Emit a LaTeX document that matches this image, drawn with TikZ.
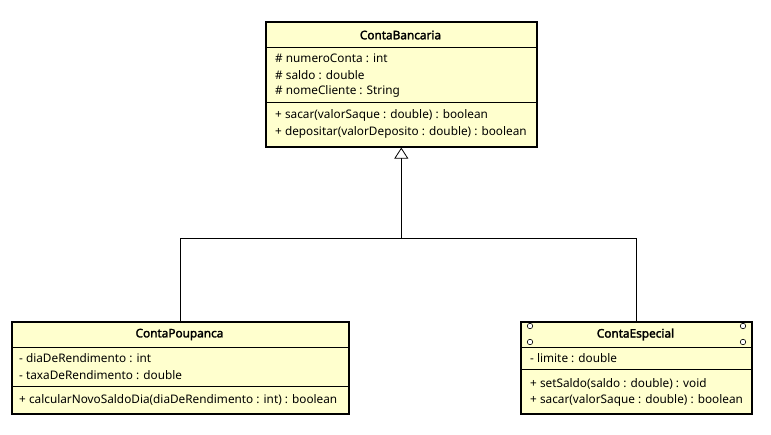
\documentclass[tikz,border=0pt]{standalone}
\usepackage{fontspec}
\setmainfont{Noto Sans}[AutoFakeBold=2.2]
\usetikzlibrary{arrows.meta}
\definecolor{classfill}{RGB}{255,255,206}
\tikzset{
  classbox/.style={draw=black, line width=1.6pt, fill=classfill, rectangle, anchor=north west, inner sep=0pt},
  ctitle/.style={font=\fontsize{11.8}{13}\selectfont\bfseries, inner sep=0pt},
  member/.style={font=\fontsize{11.8}{13}\selectfont, anchor=west, inner sep=0pt},
  sep/.style={line width=0.8pt},
  link/.style={line width=0.8pt},
  gen/.style={line width=0.8pt, -{Triangle[open, length=11pt, width=14pt, fill=white]}},
  port/.style={circle, draw=black, line width=0.6pt, fill=white, minimum size=5.5pt, inner sep=0pt}
}
\begin{document}
\begin{tikzpicture}[x=1pt,y=-1pt]
\useasboundingbox[fill=white] (0,0) rectangle (771,435);

% ContaBancaria
\node[classbox, minimum width=271pt, minimum height=125pt] (cb) at (265,21) {};
\node[ctitle] (cbt) at (400.5,35) {ContaBancaria};
\draw[sep] (265,47) -- (536,47);
\node[member] (cb1) at (275,58.5) {\# numeroConta : int};
\node[member] (cb2) at (275,75) {\# saldo : double};
\node[member] (cb3) at (275,91.5) {\# nomeCliente : String};
\draw[sep] (265,102) -- (536,102);
\node[member] (cb4) at (275,115.5) {+ sacar(valorSaque : double) : boolean};
\node[member] (cb5) at (275,132) {+ depositar(valorDeposito : double) : boolean};

% ContaPoupanca
\node[classbox, minimum width=337pt, minimum height=92pt] (cp) at (11,321) {};
\node[ctitle] (cpt) at (179.5,334.5) {ContaPoupanca};
\draw[sep] (11,347) -- (348,347);
\node[member] (cp1) at (19,358) {- diaDeRendimento : int};
\node[member] (cp2) at (19,375.5) {- taxaDeRendimento : double};
\draw[sep] (11,386) -- (348,386);
\node[member] (cp3) at (19,399.5) {+ calcularNovoSaldoDia(diaDeRendimento : int) : boolean};

% ContaEspecial
\node[classbox, minimum width=231pt, minimum height=92pt] (ce) at (520,321) {};
\node[ctitle] (cet) at (635.5,334.5) {ContaEspecial};
\node[port] (p1) at (530,326) {};
\node[port] (p2) at (743,326) {};
\node[port] (p3) at (530,342) {};
\node[port] (p4) at (743,342) {};
\draw[sep] (520,347) -- (751,347);
\node[member] (ce1) at (530,358.5) {- limite : double};
\draw[sep] (520,369) -- (751,369);
\node[member] (ce2) at (530,383.5) {+ setSaldo(saldo : double) : void};
\node[member] (ce3) at (530,400) {+ sacar(valorSaque : double) : boolean};

% generalization: both subclasses join, one hollow triangle at the superclass
\coordinate (j) at (cb.south |- 0,238);
\draw[link] (cp.north) |- (j);
\draw[link] (ce.north) |- (j);
\draw[gen] (j) -- (cb.south);
\end{tikzpicture}
\end{document}
